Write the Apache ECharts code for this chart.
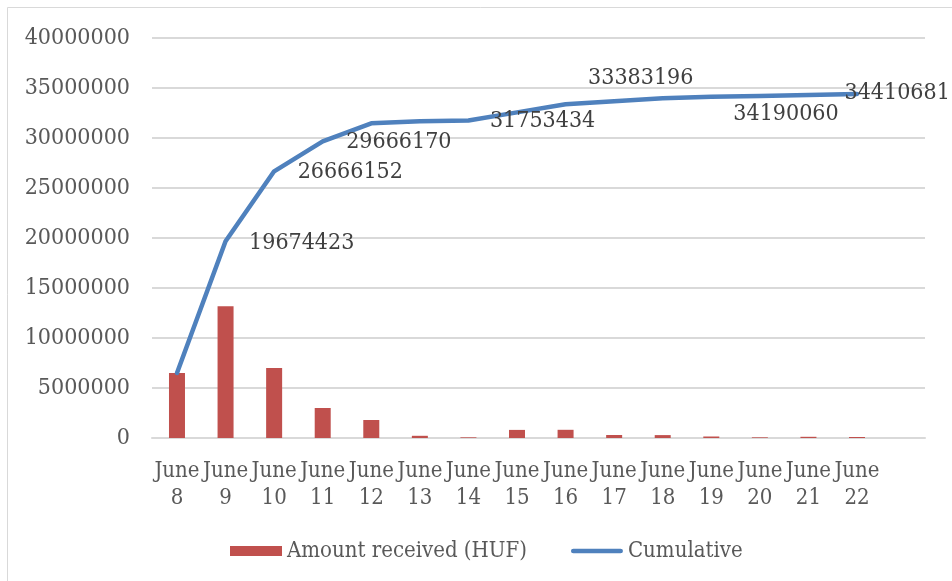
<!DOCTYPE html>
<html>
<head>
<meta charset="utf-8">
<script src="https://cdn.jsdelivr.net/npm/echarts@6/dist/echarts.min.js"></script>
<style>
html,body{margin:0;padding:0;background:#fff;}
#chart{width:952px;height:581px;}
</style>
</head>
<body>
<div id="chart"></div>
<script>
const categories = ['June\n8','June\n9','June\n10','June\n11','June\n12','June\n13','June\n14','June\n15','June\n16','June\n17','June\n18','June\n19','June\n20','June\n21','June\n22'];
const amountReceived = [6500000, 13174423, 6991729, 3000018, 1800000, 220000, 67264, 810000, 819762, 300000, 290000, 150000, 66864, 120000, 100621];
const cumulative = [6500000, 19674423, 26666152, 29666170, 31466170, 31686170, 31753434, 32563434, 33383196, 33683196, 33973196, 34123196, 34190060, 34310060, 34410681];
const yTicks = {min: 0, max: 40000000, interval: 5000000};

// which cumulative points carry a label, and where it sits relative to the point
const labelOffsets = {1:[23,2], 2:[23,1], 3:[23,1], 6:[21,1], 8:[22,-26], 12:[-27,18], 14:[-13,-1]};

const FONT = '"DejaVu Serif Condensed", "Liberation Serif", serif';
const TXT = '#595959';

const lineData = cumulative.map((v, i) => {
  if (!labelOffsets[i]) return v;
  return {value: v, label: {show: true}};
});

const chart = echarts.init(document.getElementById('chart'), null, {renderer: 'canvas'});
chart.setOption({
  animation: false,
  backgroundColor: '#fff',
  textStyle: {fontFamily: FONT},
  graphic: [{
    type: 'rect', silent: true, z: -10,
    shape: {x: 7.5, y: 7.5, width: 1000, height: 1000},
    style: {fill: 'none', stroke: '#d9d9d9', lineWidth: 1}
  }],
  grid: [
    {left: 152, right: 27, top: 38, bottom: 143},
    {left: 152.7, right: 70.7, top: 38, bottom: 143}
  ],
  legend: {
    left: 230, top: 540, padding: 0,
    itemWidth: 52, itemHeight: 10, itemGap: 44,
    textStyle: {fontFamily: FONT, fontSize: 22, color: TXT},
    data: [
      {name: 'Amount received (HUF)', icon: 'rect'},
      {name: 'Cumulative', icon: 'path://M2.5,0 L52.5,0 A2.5,2.5 0 0 1 52.5,5 L2.5,5 A2.5,2.5 0 0 1 2.5,0 Z'}
    ]
  },
  xAxis: [
    {gridIndex: 0, type: 'category', data: categories, boundaryGap: true,
     axisLine: {show: true, lineStyle: {color: '#d9d9d9', width: 2}},
     axisTick: {show: false}, axisLabel: {show: false}, splitLine: {show: false}},
    {gridIndex: 1, type: 'category', data: categories, boundaryGap: true,
     axisLine: {show: false}, axisTick: {show: false},
     axisLabel: {interval: 0, margin: 20, fontFamily: FONT, fontSize: 22, lineHeight: 27, color: TXT}}
  ],
  yAxis: [
    {gridIndex: 0, type: 'value', min: yTicks.min, max: yTicks.max, interval: yTicks.interval,
     axisLine: {show: false}, axisTick: {show: false},
     axisLabel: {margin: 22, fontFamily: FONT, fontSize: 23, color: TXT, formatter: (v) => String(v)},
     splitLine: {show: true, lineStyle: {color: '#d9d9d9', width: 2}}},
    {gridIndex: 1, type: 'value', min: yTicks.min, max: yTicks.max, interval: yTicks.interval,
     show: false, splitLine: {show: false}}
  ],
  series: [
    {name: 'Amount received (HUF)', type: 'bar', xAxisIndex: 1, yAxisIndex: 1,
     data: amountReceived, barWidth: 16,
     itemStyle: {color: '#c0504d'}},
    {name: 'Cumulative', type: 'line', xAxisIndex: 1, yAxisIndex: 1,
     data: lineData, symbol: 'circle', symbolSize: 1, showSymbol: true,
     lineStyle: {color: '#4f81bd', width: 4.5, cap: 'round', join: 'round'},
     itemStyle: {color: '#4f81bd'},
     label: {show: false, position: 'right', distance: 0, fontFamily: FONT, fontSize: 23, color: '#404040',
             formatter: (p) => String(p.value)},
     labelLayout: (params) => {
       const off = labelOffsets[params.dataIndex] || [0, 0];
       return {dx: off[0], dy: off[1], hideOverlap: false};
     }}
  ]
});
</script>
</body>
</html>
